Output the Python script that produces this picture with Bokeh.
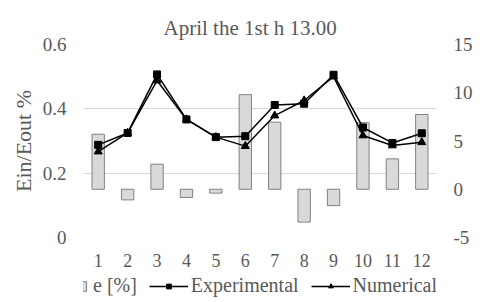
from bokeh.plotting import figure
from bokeh.layouts import column
from bokeh.models import (Range1d, FactorRange, LinearAxis, Legend, LegendItem,
                          FixedTicker, Title, ColumnDataSource)
from bokeh.embed import file_html
from bokeh.resources import INLINE

categories = ["1", "2", "3", "4", "5", "6", "7", "8", "9", "10", "11", "12"]
e_percent = [5.7, -1.1, 2.6, -0.85, -0.4, 9.8, 6.95, -3.4, -1.7, 6.9, 3.15, 7.75]
experimental = [0.288, 0.325, 0.507, 0.367, 0.312, 0.315, 0.412, 0.416, 0.506, 0.342, 0.294, 0.324]
numerical = [0.267, 0.325, 0.488, 0.367, 0.312, 0.284, 0.379, 0.426, 0.500, 0.317, 0.286, 0.296]
left_ticks = [0, 0.2, 0.4, 0.6]
right_ticks = [-5, 0, 5, 10, 15]
series_names = ["e [%]", "Experimental", "Numerical"]

FONT = "Liberation Serif"
TXT = "#595959"
BAR_FILL = "#d9d9d9"
BAR_LINE = "#808080"

src = ColumnDataSource(dict(x=categories, e=e_percent, exp=experimental, num=numerical))

p = figure(frame_width=353, frame_height=193, x_range=FactorRange(factors=categories),
           y_range=Range1d(0, 0.6), output_backend="svg", toolbar_location=None,
           min_border_left=83, min_border_right=40, min_border_top=44, min_border_bottom=37)
p.extra_y_ranges = {"right": Range1d(-5, 15)}
p.outline_line_color = None

p.title = Title(text="April the 1st h 13.00", align="left", offset=80,
                text_font=FONT, text_font_size="21px", text_font_style="normal",
                text_color=TXT)

p.vbar(x="x", top="e", bottom=0, width=0.42, source=src, y_range_name="right",
       fill_color=BAR_FILL, line_color=BAR_LINE, line_width=1)
p.line(x="x", y="exp", source=src, line_color="black", line_width=1.5)
p.scatter(x="x", y="exp", source=src, marker="square", size=7, fill_color="black", line_color="black")
p.line(x="x", y="num", source=src, line_color="black", line_width=1.5)
p.scatter(x="x", y="num", source=src, marker="triangle", size=8, fill_color="black", line_color="black")

ra = LinearAxis(y_range_name="right", ticker=FixedTicker(ticks=right_ticks))
ra.major_label_overrides = {-5: "-5"}
p.add_layout(ra, "right")

for ax in [p.yaxis[0], ra, p.xaxis[0]]:
    ax.axis_line_color = None
    ax.major_tick_line_color = None
    ax.minor_tick_line_color = None
    ax.major_tick_out = 0
    ax.major_tick_in = 0
    ax.major_label_text_font = FONT
    ax.major_label_text_font_size = "19px"
    ax.major_label_text_color = TXT
    ax.major_label_standoff = 17

p.yaxis[0].ticker = FixedTicker(ticks=left_ticks)
p.yaxis[0].axis_label = "Ein/Eout %"
p.yaxis[0].axis_label_text_font = FONT
p.yaxis[0].axis_label_text_font_size = "22px"
p.yaxis[0].axis_label_text_font_style = "normal"
p.yaxis[0].axis_label_text_color = TXT
p.yaxis[0].axis_label_standoff = 4
p.xaxis[0].major_label_standoff = 16
p.xaxis[0].major_label_text_font_size = "18px"

p.xgrid.grid_line_color = None
p.ygrid[0].grid_line_color = "#d9d9d9"
p.ygrid[0].grid_line_width = 1

# legend strip below the chart: same series, drawn out of view so only the legend shows
lg = figure(width=476, height=27, x_range=FactorRange(factors=categories), y_range=Range1d(100, 101),
            x_axis_type=None, y_axis_type=None, output_backend="svg", toolbar_location=None,
            min_border_left=0, min_border_right=0, min_border_top=0, min_border_bottom=0)
lg.outline_line_color = None
lg.xgrid.visible = False
lg.ygrid.visible = False
b0 = lg.vbar(x="x", top="e", bottom=0, width=0.42, source=src,
             fill_color=BAR_FILL, line_color=BAR_LINE, line_width=1)
a1 = lg.line(x="x", y="exp", source=src, line_color="black", line_width=1.5)
a2 = lg.scatter(x="x", y="exp", source=src, marker="square", size=7, fill_color="black", line_color="black")
c1 = lg.line(x="x", y="num", source=src, line_color="black", line_width=1.5)
c2 = lg.scatter(x="x", y="num", source=src, marker="triangle", size=8, fill_color="black", line_color="black")

legend = Legend(items=[LegendItem(label=series_names[0], renderers=[b0]),
                       LegendItem(label=series_names[1], renderers=[a1, a2]),
                       LegendItem(label=series_names[2], renderers=[c1, c2])],
                orientation="horizontal", location=(-32, 4),
                glyph_width=39, glyph_height=12, label_standoff=3, spacing=12,
                padding=0, margin=0, border_line_color=None, background_fill_alpha=0,
                label_text_font=FONT, label_text_font_size="20px", label_text_color=TXT)
lg.add_layout(legend, "center")

layout = column(p, lg, spacing=0)
open("out.html", "w").write(file_html(layout, INLINE))
